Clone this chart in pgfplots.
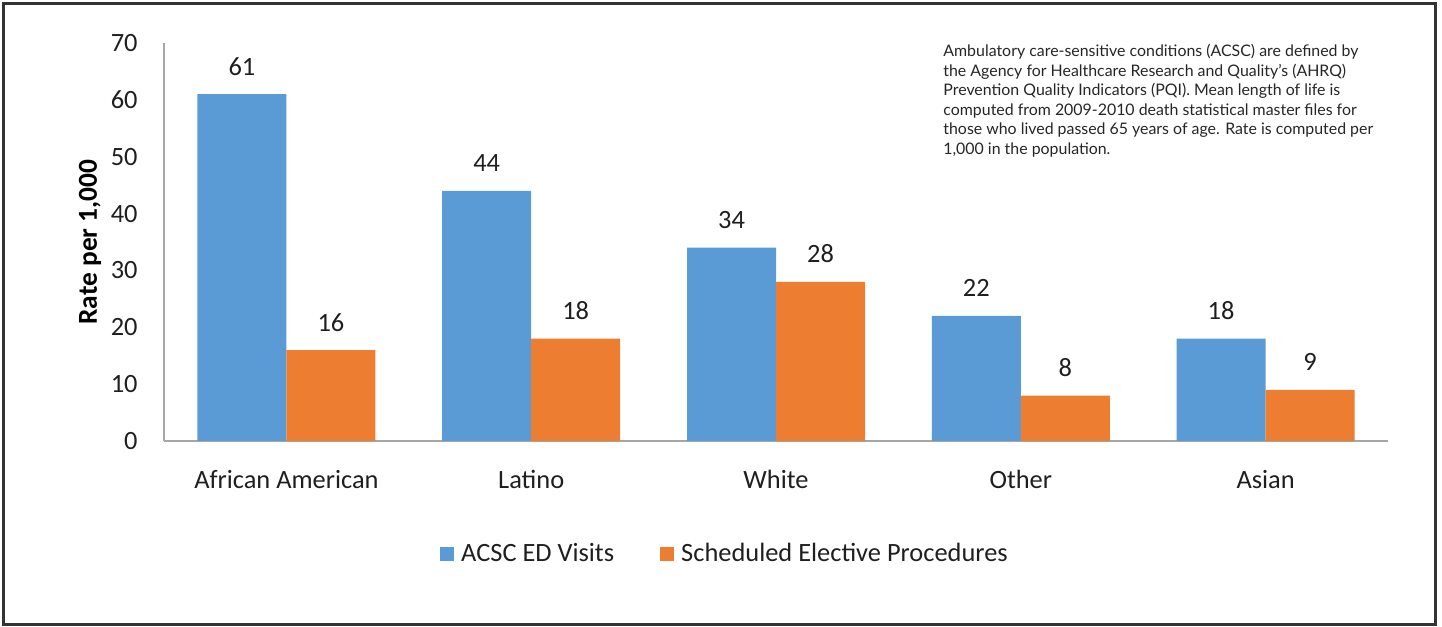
\documentclass[border=0pt]{standalone}
\usepackage{fontspec}
\setmainfont{Carlito}
\newfontfamily\notefont{Lato}
\usepackage{pgfplots}
\pgfplotsset{compat=1.18}

\definecolor{barblue}{HTML}{5B9BD5}
\definecolor{barorange}{HTML}{ED7D31}
\definecolor{axisgray}{HTML}{A6A6A6}
\definecolor{framegray}{HTML}{333333}

\begin{document}
\begin{tikzpicture}
\begin{axis}[
  at={(0,0)}, anchor=south west,
  scale only axis,
  width=612bp, height=199bp,
  ybar=0pt, bar width=44.5bp,
  xmin=-0.5, xmax=4.5,
  ymin=0, ymax=70,
  xtick={0,1,2,3,4},
  xticklabels={African American, Latino, White, Other, Asian},
  ytick={0,10,...,70},
  axis x line*=bottom, axis y line*=left,
  axis line style={draw=axisgray, line width=0.75bp},
  major tick length=0pt,
  tick style={draw=none},
  /pgf/number format/assume math mode=true,
  tick label style={font=\fontsize{13.2bp}{15bp}\selectfont, text=black!88},
  xticklabel style={anchor=base, inner sep=0pt, yshift=-23.5bp},
  yticklabel style={anchor=east, inner sep=0pt, xshift=-13bp},
  ylabel={Rate per 1,000},
  ylabel style={at={(axis description cs:-0.0605,0.5)}, anchor=center,
    font=\fontsize{13.7bp}{15bp}\selectfont\bfseries},
  nodes near coords,
  every node near coord/.append style={anchor=base, inner sep=0pt, yshift=9.5bp,
    font=\fontsize{13.2bp}{15bp}\selectfont, text=black!88},
  legend columns=2,
  legend style={at={(0.4575,-0.284)}, anchor=center, draw=none, fill=none,
    inner sep=0pt, column sep=0pt,
    nodes={inner sep=0pt, font=\fontsize{13.2bp}{15bp}\selectfont, text=black!88},
    /tikz/every even column/.append style={column sep=23bp}},
  legend image code/.code={%
    \fill[#1] (0bp,-3.5bp) rectangle (7bp,3.5bp);
    \path (10.5bp,0bp);},
]
\addplot[fill=barblue, draw=none] coordinates {(0,61) (1,44) (2,34) (3,22) (4,18)};
\addplot[fill=barorange, draw=none] coordinates {(0,16) (1,18) (2,28) (3,8) (4,9)};
\legend{ACSC ED Visits, Scheduled Elective Procedures}
\end{axis}

\node[anchor=north west, inner sep=0pt, align=left, text=black!85,
  font=\notefont\fontsize{7.95bp}{9.75bp}\selectfont] at (389.5bp,198.5bp)
  {Ambulatory care-sensitive conditions (ACSC) are defined by\\
   the Agency for Healthcare Research and Quality’s (AHRQ)\\
   Prevention Quality Indicators (PQI). Mean length of life is\\
   computed from 2009-2010 death statistical master files for\\
   those who lived passed 65 years of age. Rate is computed per\\
   1,000 in the population.};

\draw[framegray, line width=1.5bp] (-80.25bp,-91.5bp) rectangle (635.5bp,218.75bp);
\useasboundingbox (-82bp,-93bp) rectangle (639bp,220.5bp);
\end{tikzpicture}
\end{document}
